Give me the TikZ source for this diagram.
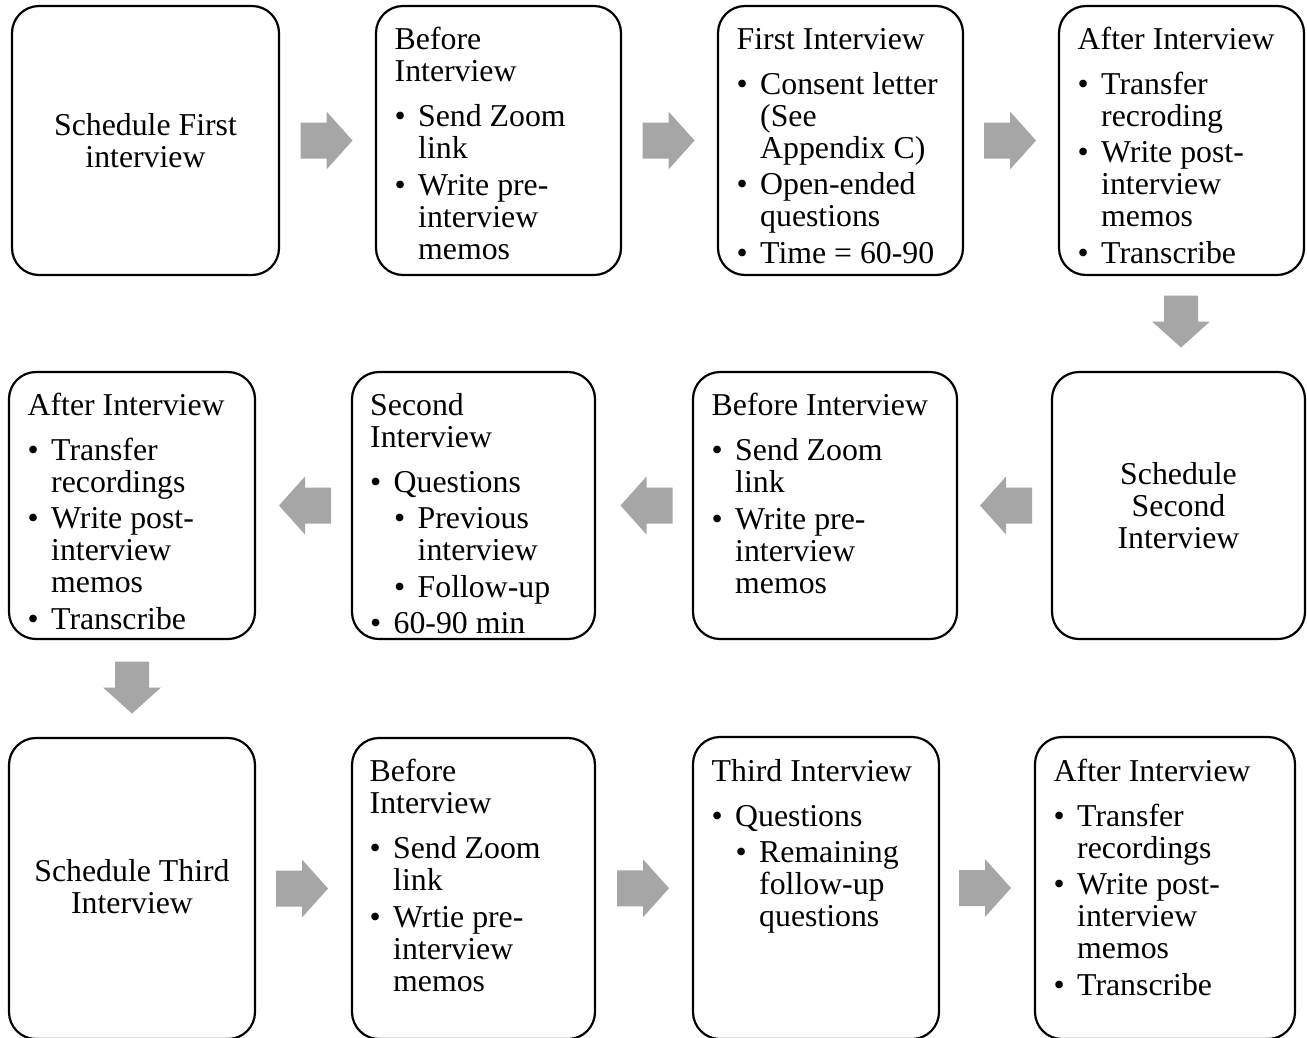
\documentclass[tikz,border=0pt]{standalone}
\usepackage{fontspec}
\setmainfont{Liberation Serif}
\usetikzlibrary{calc}
\definecolor{arrowgray}{RGB}{166,166,166}
\newcommand\fs{\fontsize{31.8}{32}\selectfont}
\newcommand\Bl{\makebox[23.5pt][l]{•}}
\newcommand\Bi{\hspace*{23.5pt}}
\newcommand\SBl{\hspace*{24pt}\makebox[23.5pt][l]{•}}
\newcommand\SBi{\hspace*{47.5pt}}
\newcommand\arrR[1]{\fill[blk,shift={(#1)}] (-26,-18) -- (0,-18) -- (0,-29) -- (26,0) -- (0,29) -- (0,18) -- (-26,18) -- cycle;}
\newcommand\arrL[1]{\fill[blk,shift={(#1)}] (26,-18) -- (0,-18) -- (0,-29) -- (-26,0) -- (0,29) -- (0,18) -- (26,18) -- cycle;}
\newcommand\arrD[1]{\fill[blk,shift={(#1)}] (-17,-26) -- (-17,0) -- (-29,0) -- (0,26) -- (29,0) -- (17,0) -- (17,-26) -- cycle;}
\tikzset{
  box/.style={draw=black, line width=2.2pt, rounded corners=27pt, inner sep=0pt, outer sep=0pt, anchor=north west},
  txt/.style={anchor=north west, inner sep=0pt, align=left, font=\fs},
  ctxt/.style={align=center, inner sep=0pt, font=\fs},
  blk/.style={fill=arrowgray, draw=none}
}
\begin{document}
\begin{tikzpicture}[x=1pt,y=-1pt]
\path[use as bounding box] (0,0) rectangle (1307,1037);
\fill[white] (0,0) rectangle (1307,1037);
\clip (0,0) rectangle (1307,1037);
% row 1
\node[box, minimum width=267pt, minimum height=269pt] (b1) at (12,6) {};
\node[box, minimum width=245pt, minimum height=269pt] (b2) at (376,6) {};
\node[box, minimum width=245pt, minimum height=269pt] (b3) at (718,6) {};
\node[box, minimum width=245pt, minimum height=269pt] (b4) at (1059,6) {};
% row 2
\node[box, minimum width=246pt, minimum height=267pt] (c1) at (9,372) {};
\node[box, minimum width=243pt, minimum height=267pt] (c2) at (352,372) {};
\node[box, minimum width=264pt, minimum height=267pt] (c3) at (693,372) {};
\node[box, minimum width=253pt, minimum height=267pt] (c4) at (1052,372) {};
% row 3
\node[box, minimum width=246pt, minimum height=301pt] (d1) at (9,738) {};
\node[box, minimum width=243pt, minimum height=301pt] (d2) at (352,738) {};
\node[box, minimum width=246pt, minimum height=302pt] (d3) at (693,737) {};
\node[box, minimum width=260pt, minimum height=302pt] (d4) at (1035,737) {};
% texts row 1
\node[ctxt] (tb1) at (b1.center) {Schedule First\\interview};
\node[txt] (tb2) at (394.5,26.6) {\strut Before\\Interview\\[13pt]\Bl Send Zoom\\\Bi link\\[5pt]\Bl Write pre-\\\Bi interview\\\Bi memos};
\node[txt] (tb3) at (736.5,26.6) {\strut First Interview\\[13pt]\Bl Consent letter\\\Bi (See\\\Bi Appendix C)\\[4.5pt]\Bl Open-ended\\\Bi questions\\[4.5pt]\Bl Time = 60-90};
\node[txt] (tb4) at (1077.5,26.6) {\strut After Interview\\[13pt]\Bl Transfer\\\Bi recroding\\[4.5pt]\Bl Write post-\\\Bi interview\\\Bi memos\\[4.5pt]\Bl Transcribe};
% texts row 2
\node[txt] (tc1) at (27.5,392.6) {\strut After Interview\\[13pt]\Bl Transfer\\\Bi recordings\\[4.5pt]\Bl Write post-\\\Bi interview\\\Bi memos\\[4.5pt]\Bl Transcribe};
\node[txt] (tc2) at (370,392.6) {\strut Second\\Interview\\[13pt]\Bl Questions\\[4.5pt]\SBl Previous\\\SBi interview\\[4.5pt]\SBl Follow-up\\[4.5pt]\Bl 60-90 min};
\node[txt] (tc3) at (711.5,392.6) {\strut Before Interview\\[13pt]\Bl Send Zoom\\\Bi link\\[5pt]\Bl Write pre-\\\Bi interview\\\Bi memos};
\node[ctxt] (tc4) at (c4.center) {Schedule\\Second\\Interview};
% texts row 3
\node[ctxt] (td1) at ($(d1.center)+(0,-2)$) {Schedule Third\\Interview};
\node[txt] (td2) at (369.5,758.6) {\strut Before\\Interview\\[13pt]\Bl Send Zoom\\\Bi link\\[5pt]\Bl Wrtie pre-\\\Bi interview\\\Bi memos};
\node[txt] (td3) at (711.5,758.6) {\strut Third Interview\\[13pt]\Bl Questions\\[4.5pt]\SBl Remaining\\\SBi follow-up\\\SBi questions};
\node[txt] (td4) at (1053.5,758.6) {\strut After Interview\\[13pt]\Bl Transfer\\\Bi recordings\\[4.5pt]\Bl Write post-\\\Bi interview\\\Bi memos\\[4.5pt]\Bl Transcribe};
% arrows
\arrR{$(b1.east)!0.5!(b2.west)+(-1,0)$}
\arrR{$(b2.east)!0.5!(b3.west)+(-1,0)$}
\arrR{$(b3.east)!0.5!(b4.west)+(-1,0)$}
\arrD{$(b4.south)!0.5!(c4.north)+(1,-2)$}
\arrL{$(c4.west)!0.5!(c3.east)+(1.5,0)$}
\arrL{$(c3.west)!0.5!(c2.east)+(2.5,0)$}
\arrL{$(c2.west)!0.5!(c1.east)+(1.5,0)$}
\arrD{$(c1.south)!0.5!(d1.north)+(0,-1)$}
\arrR{$(d1.east)!0.5!(d2.west)+(-1.5,0)$}
\arrR{$(d2.east)!0.5!(d3.west)+(-1,0)$}
\arrR{$(d3.east)!0.5!(d4.west)+(-2,0)$}
\end{tikzpicture}
\end{document}
